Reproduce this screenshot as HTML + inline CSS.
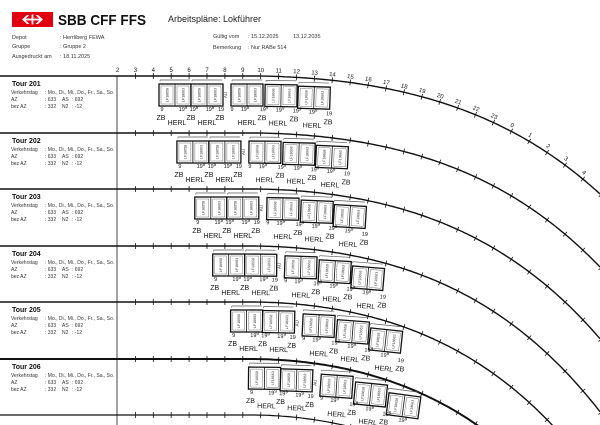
<!DOCTYPE html>
<html><head><meta charset="utf-8">
<style>
html,body{margin:0;padding:0;background:#fff;width:600px;height:425px;overflow:hidden;}
svg{display:block;font-family:"Liberation Sans",sans-serif;overflow:hidden;}
</style></head>
<body>
<svg id="s" width="600" height="425" viewBox="0 0 600 425" xmlns="http://www.w3.org/2000/svg">
<rect width="600" height="425" fill="#fff"/>
<rect x="12" y="12" width="41" height="15" fill="#e3000f"/>
<g fill="#fff">
<rect x="25" y="18.6" width="15" height="1.8"/>
<rect x="31.6" y="14.5" width="1.8" height="10"/>
<polygon points="22,19.5 27,15 29.5,15 24.8,19.5 29.5,24 27,24"/>
<polygon points="43,19.5 38,15 35.5,15 40.2,19.5 35.5,24 38,24"/>
</g>
<text x="58" y="25" font-size="15" font-weight="bold" fill="#111" textLength="88" lengthAdjust="spacingAndGlyphs">SBB CFF FFS</text>
<text x="168" y="22" font-size="9" fill="#222">Arbeitspläne: Lokführer</text>
<g font-size="5.5" fill="#333">
<text x="12" y="39">Depot</text><text x="60" y="39">: Herrliberg FEWA</text>
<text x="12" y="48">Gruppe</text><text x="60" y="48">: Gruppe 2</text>
<text x="12" y="58">Ausgedruckt am</text><text x="60" y="58">: 18.11.2025</text>
<text x="213" y="38">Gültig vom</text><text x="248" y="38">: 15.12.2025</text><text x="293" y="38">13.12.2035</text>
<text x="213" y="49">Bemerkung</text><text x="248" y="49">: Nur RABe 514</text>
</g>
<line x1="117" y1="76" x2="117" y2="425" stroke="#444" stroke-width="1"/>
<g id="dyn"></g>
</svg>
<script>
(function(){
function off(x,y){var d=Math.max(0,x-250);var s=1+(y-76)/420;return s*(6.2e-4*d*d+2.8e-9*d*d*d*d);}
function P(x,y){return [x,y+off(x,y)];}
function ang(x,y){return Math.atan2(off(x+1,y)-off(x-1,y),2)*180/Math.PI;}
function hx(h){return 117.5+(h-2)*17.9;}
var o=[];
function G(x,y,inner,f){var p=P(x,y);var a=ang(x,y)*(f===undefined?1:f);o.push('<g transform="translate('+p[0].toFixed(2)+','+p[1].toFixed(2)+') rotate('+a.toFixed(2)+')">'+inner+'</g>');}
function line(y0,w){var pts=[];for(var x=0;x<=600;x+=3){var p=P(x,y0);pts.push(p[0].toFixed(1)+','+p[1].toFixed(1));if(p[1]>440)break;}
o.push('<polyline points="'+pts.join(' ')+'" fill="none" stroke="#111" stroke-width="'+w+'"/>');
for(var h=2;h<=29;h++){var x=hx(h);if(x<120)continue;var p=P(x,y0);if(p[1]>430)break;G(x,y0,'<line x1="0" y1="-3" x2="0" y2="3" stroke="#111" stroke-width="0.8"/>');}}
line(76,1.4);
for(var h=2;h<=29;h++){var lab=h%24;var x=hx(h);G(x,72,'<text x="0" y="0" font-size="6" text-anchor="middle" fill="#111">'+lab+'</text>');}
var T=[76,133,189,246,302,359];
for(var i=1;i<6;i++){line(T[i],i==5?2:1.4);}
line(415,1.2);
var pairs=[0,32,72,106,139];
var small=[[3,0],[24,1],[35,1],[51,1],[62,2],[73,0],[86,1],[105,1],[121,1],[138,1],[154,1],[170,2]];
var zb=[2,32,61,103,135,169];
var herl=[18,48,88,119,153];
var F=0.35;
for(var i=0;i<6;i++){
 var t=T[i];var X0=159+17.9*i;var tn=201+i;
 o.push('<text x="12" y="'+(t+10)+'" font-size="7" font-weight="bold" fill="#111">Tour '+tn+'</text>');
 o.push('<g font-size="5" fill="#333"><text x="11" y="'+(t+18)+'">Verkehrstag</text><text x="45" y="'+(t+18)+'">: Mo., Di., Mi., Do., Fr., Sa., So.</text>'+
 '<text x="11" y="'+(t+25)+'">AZ</text><text x="45" y="'+(t+25)+'">: 633</text><text x="62" y="'+(t+25)+'">AS</text><text x="72" y="'+(t+25)+'">: 692</text>'+
 '<text x="11" y="'+(t+32)+'">bez AZ</text><text x="45" y="'+(t+32)+'">: 332</text><text x="62" y="'+(t+32)+'">N2</text><text x="72" y="'+(t+32)+'">: -12</text></g>');
 for(var j=0;j<pairs.length;j++){
  var px=X0+pairs[j];
  G(px+16,t+4,'<line x1="-15" y1="0" x2="15" y2="0" stroke="#555" stroke-width="0.7"/><line x1="-15" y1="0" x2="-15" y2="1.5" stroke="#555" stroke-width="0.6"/>',F);
  G(px+16,t+19,'<rect x="-16" y="-11" width="32" height="22" fill="#fff" stroke="#111" stroke-width="1.3"/><line x1="0" y1="-11" x2="0" y2="11" stroke="#111" stroke-width="0.8"/>'+
   '<rect x="-14" y="-9" width="12" height="18" fill="none" stroke="#555" stroke-width="0.4"/><rect x="2" y="-9" width="12" height="18" fill="none" stroke="#555" stroke-width="0.4"/>'+
   '<text transform="translate(-6.5,0) rotate(-90)" font-size="3.6" text-anchor="middle" fill="#333">LF18658</text>'+
   '<text transform="translate(9.5,0) rotate(-90)" font-size="3.6" text-anchor="middle" fill="#333">LF18663</text>',F);
 }
 G(X0+68,t+19,'<text transform="rotate(-90)" font-size="4.5" text-anchor="middle" fill="#333">AU</text>',F);
 for(var k=0;k<small.length;k++){var s=small[k];var inner;
  if(s[1]==0)inner='<text x="0" y="0" font-size="5.5" text-anchor="middle" fill="#111">9</text>';
  else if(s[1]==2)inner='<text x="0" y="0" font-size="5.5" text-anchor="middle" fill="#111">19</text>';
  else inner='<text x="0" y="0" font-size="5.5" text-anchor="middle" fill="#111">19<tspan font-size="4.5" dy="-2">9</tspan></text>';
  G(X0+s[0],t+35,inner,F);}
 for(var k=0;k<zb.length;k++)G(X0+zb[k],t+44,'<text x="0" y="0" font-size="7" text-anchor="middle" fill="#111">ZB</text>',F);
 for(var k=0;k<herl.length;k++)G(X0+herl[k],t+49,'<text x="0" y="0" font-size="7" text-anchor="middle" fill="#111">HERL</text>',F);
}
document.getElementById('dyn').innerHTML=o.join('');
})();
</script>
</body></html>
